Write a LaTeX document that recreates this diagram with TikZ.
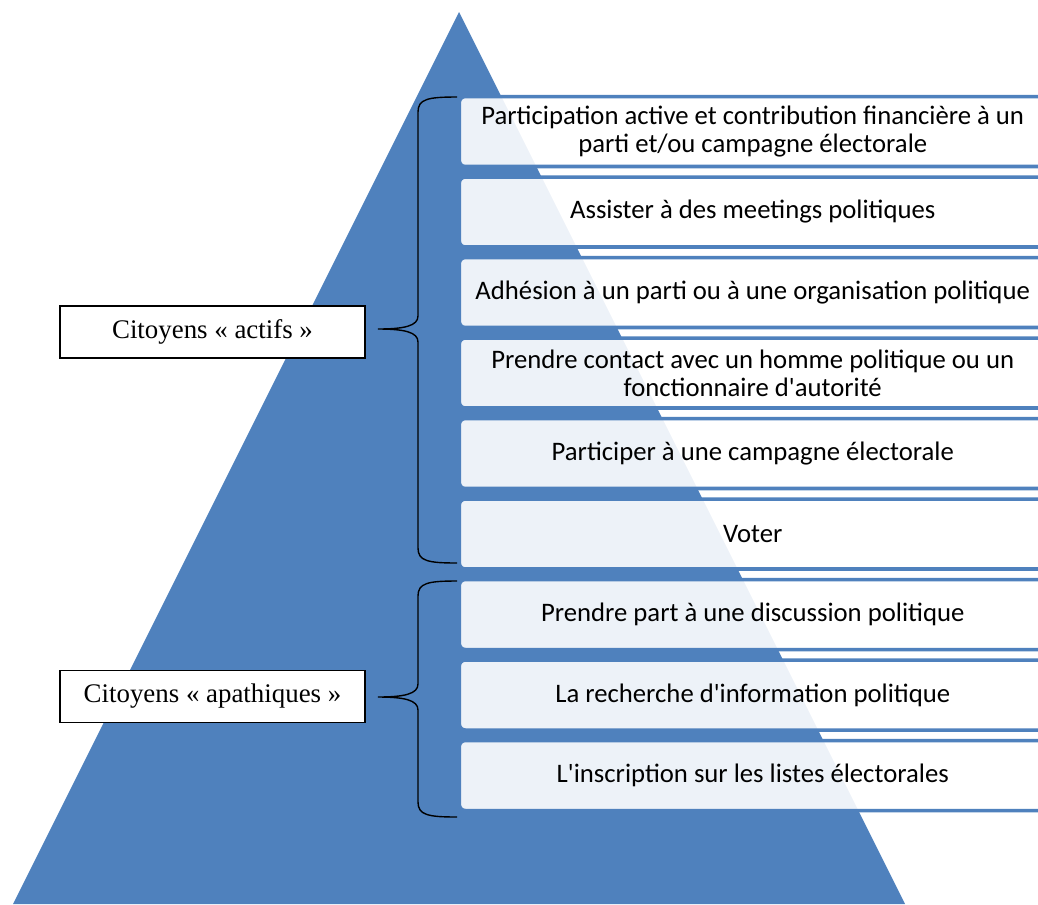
\documentclass[tikz,border=0pt]{standalone}
\usepackage{fontspec}
\setmainfont{Liberation Serif}
\newfontfamily\boxfont{Carlito}
\definecolor{pyrblue}{HTML}{4F81BD}

\tikzset{
  levelbox/.style={draw=pyrblue, line width=2pt, fill=white, fill opacity=0.9,
    text opacity=1, rounded corners=0.12cm, minimum width=11.74cm,
    minimum height=1.4cm, inner sep=0pt, align=center,
    font=\boxfont\fontsize{15.2}{16}\selectfont},
  groupbox/.style={draw, line width=0.85pt, fill=white, minimum width=6.1cm,
    minimum height=1.04cm, inner sep=0pt, font=\fontsize{15.3}{17}\selectfont},
  bracket/.style={line width=0.8pt, black}
}

\begin{document}
\begin{tikzpicture}[x=0.02cm, y=-0.02cm]
  \useasboundingbox (0,0) rectangle (1038,904);
  % pyramid
  \fill[pyrblue] (459,12) -- (905,904) -- (13,904) -- cycle;
  % levels
  \foreach \txt [count=\i] in {
      {Participation active et contribution financière à un\\parti et/ou campagne électorale},
      {Assister à des meetings politiques},
      {Adhésion à un parti ou à une organisation politique},
      {Prendre contact avec un homme politique ou un\\fonctionnaire d'autorité},
      {Participer à une campagne électorale},
      {Voter},
      {Prendre part à une discussion politique},
      {La recherche d'information politique},
      {L'inscription sur les listes électorales}}
    \node[levelbox] (lvl\i) at (752.75, {131.5+80.5*(\i-1)}) {\txt};
  % groups
  \node[groupbox] (actifs) at (212.5,332) {Citoyens « actifs »};
  \node[groupbox] (apathiques) at (212.5,696.5) {Citoyens « apathiques »};
  \draw[bracket] (457,97) .. controls (428,97) and (418,99) .. (418,112)
    -- (418,316) .. controls (418,326) and (404,329) .. (378,329)
    .. controls (404,329) and (418,332) .. (418,342)
    -- (418,548) .. controls (418,561) and (428,563) .. (457,563);
  \draw[bracket] (457,581) .. controls (428,581) and (418,583) .. (418,596)
    -- (418,684) .. controls (418,694) and (404,697) .. (378,697)
    .. controls (404,697) and (418,700) .. (418,710)
    -- (418,802) .. controls (418,815) and (428,817) .. (457,817);
\end{tikzpicture}
\end{document}
